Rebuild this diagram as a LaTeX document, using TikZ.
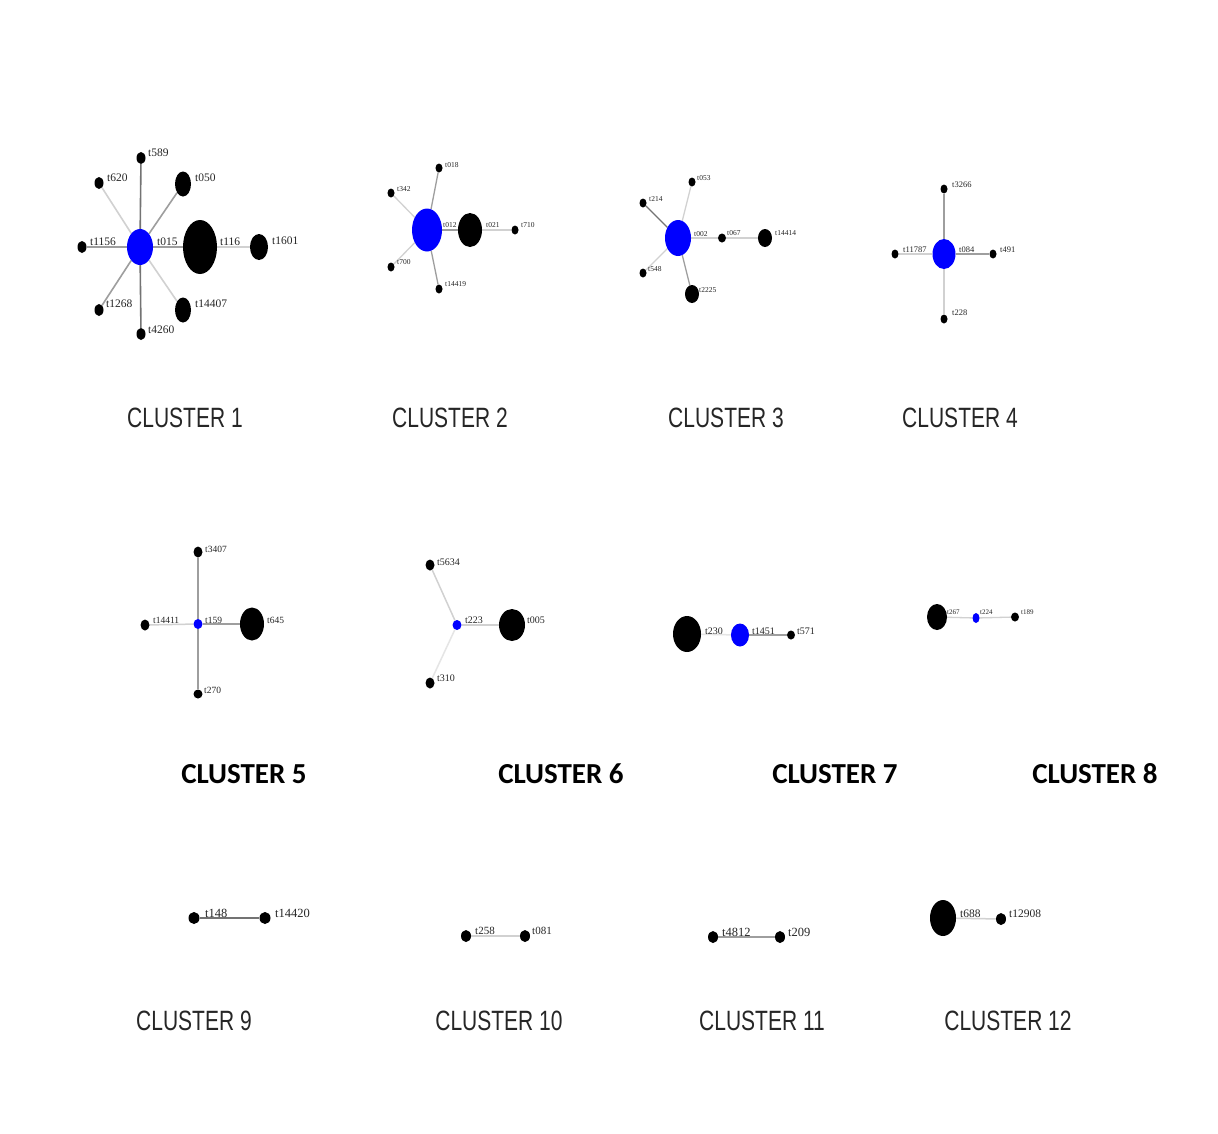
\documentclass[tikz,border=0pt]{standalone}
\usepackage{fontspec}
\setmainfont{Liberation Serif}
\newfontfamily\titfont{Liberation Sans}
\newfontfamily\boldtit{Carlito}
\usetikzlibrary{shapes.geometric,backgrounds}
\pgfdeclarelayer{bottom}
\pgfsetlayers{bottom,background,main}
\tikzset{
  nd/.style n args={3}{ellipse, fill=#1, draw=none, minimum width=#2pt, minimum height=#3pt, inner sep=0pt},
  bn/.style 2 args={nd={black}{#1}{#2}},
  un/.style 2 args={nd={blue}{#1}{#2}},
  lbl/.style={font=\fontsize{#1}{#1}\selectfont, anchor=west, inner sep=0pt, text=black!85},
  eD/.style={draw=black!55, line width=1.6pt},
  eM/.style={draw=black!38, line width=1.6pt},
  eL/.style={draw=black!18, line width=1.6pt},
  titA/.style={font=\titfont\fontsize{21}{21}\selectfont, inner sep=0pt, text=black!85},
  titB/.style={font=\boldtit\bfseries\fontsize{29}{29}\selectfont, inner sep=0pt},
}
\newcommand{\tallt}[1]{\scalebox{1}[1.33]{#1}}
\begin{document}
\begin{tikzpicture}[x=1pt,y=-1pt]
\begin{pgfonlayer}{bottom}
\fill[white] (0,0) rectangle (1218,1133);
\end{pgfonlayer}
\useasboundingbox (0,0) rectangle (1218,1133);

% ---------- Cluster 1 ----------
\node[un={26}{36}] (c1a) at (140,247) {};
\node[bn={34}{54}] (c1b) at (200,247) {};
\node[bn={18}{26}] (c1c) at (259,247) {};
\node[bn={16}{25}] (c1d) at (183,184) {};
\node[bn={16}{25}] (c1e) at (183,310) {};
\node[bn={9}{12}] (c1f) at (141,158) {};
\node[bn={9}{12}] (c1g) at (99,183) {};
\node[bn={9}{12}] (c1h) at (82,247) {};
\node[bn={9}{12}] (c1i) at (99,310) {};
\node[bn={9}{12}] (c1j) at (141,334) {};
\begin{scope}[on background layer]
\draw[eD] (c1a) -- (c1f);
\draw[eL] (c1a) -- (c1g);
\draw[eM] (c1a) -- (c1d);
\draw[eM] (c1a) -- (c1h);
\draw[eM] (c1a) -- (c1b);
\draw[eL] (c1b) -- (c1c);
\draw[eM] (c1a) -- (c1i);
\draw[eD] (c1a) -- (c1j);
\draw[eL] (c1a) -- (c1e);
\end{scope}
\node[lbl=11.5] (l1f) at (148,153) {t589};
\node[lbl=11.5] (l1g) at (107,178) {t620};
\node[lbl=11.5] (l1d) at (195,178) {t050};
\node[lbl=11.5] (l1h) at (90,242) {t1156};
\node[lbl=11.5] (l1a) at (157,242) {t015};
\node[lbl=11.5] (l1b) at (220,242) {t116};
\node[lbl=11.5] (l1c) at (272,241) {t1601};
\node[lbl=11.5] (l1i) at (106,304) {t1268};
\node[lbl=11.5] (l1e) at (195,304) {t14407};
\node[lbl=11.5] (l1j) at (148,330) {t4260};
\node[titA] (t1) at (185,418) {\tallt{CLUSTER 1}};

% ---------- Cluster 2 ----------
\node[un={30}{43}] (c2a) at (427,230) {};
\node[bn={24}{34}] (c2b) at (470,230) {};
\node[bn={7}{9}] (c2c) at (515,230) {};
\node[bn={7}{9}] (c2d) at (439,168) {};
\node[bn={7}{9}] (c2e) at (391,193) {};
\node[bn={7}{9}] (c2f) at (391,267) {};
\node[bn={7}{9}] (c2g) at (439,289) {};
\begin{scope}[on background layer]
\draw[eM, line width=1.3pt] (c2a) -- (c2d);
\draw[eL, line width=1.3pt] (c2a) -- (c2e);
\draw[eL, line width=1.3pt] (c2a) -- (c2f);
\draw[eM, line width=1.3pt] (c2a) -- (c2g);
\draw[eM, line width=1.3pt] (c2a) -- (c2b);
\draw[eL, line width=1.3pt] (c2b) -- (c2c);
\end{scope}
\node[lbl=7.5] (l2d) at (445,165) {t018};
\node[lbl=7.5] (l2e) at (397,189) {t342};
\node[lbl=7.5] (l2a) at (443,225) {t012};
\node[lbl=7.5] (l2b) at (486,225) {t021};
\node[lbl=7.5] (l2c) at (521,225) {t710};
\node[lbl=7.5] (l2f) at (397,262) {t700};
\node[lbl=7.5] (l2g) at (445,284) {t14419};
\node[titA] (t2) at (450,418) {\tallt{CLUSTER 2}};

% ---------- Cluster 3 ----------
\node[un={26}{36}] (c3a) at (678,238) {};
\node[bn={8}{9}] (c3b) at (722,238) {};
\node[bn={14}{18}] (c3c) at (765,238) {};
\node[bn={7}{9}] (c3d) at (692,182) {};
\node[bn={7}{9}] (c3e) at (643,203) {};
\node[bn={7}{9}] (c3f) at (643,273) {};
\node[bn={14}{18}] (c3g) at (692,294) {};
\begin{scope}[on background layer]
\draw[eL, line width=1.3pt] (c3a) -- (c3d);
\draw[eD, line width=1.3pt] (c3a) -- (c3e);
\draw[eL, line width=1.3pt] (c3a) -- (c3f);
\draw[eM, line width=1.3pt] (c3a) -- (c3g);
\draw[eL, line width=1.3pt] (c3a) -- (c3b);
\draw[eL, line width=1.3pt] (c3b) -- (c3c);
\end{scope}
\node[lbl=7.5] (l3d) at (697,178) {t053};
\node[lbl=7.5] (l3e) at (649,199) {t214};
\node[lbl=7.5] (l3a) at (694,234) {t002};
\node[lbl=7.5] (l3b) at (727,233) {t067};
\node[lbl=7.5] (l3c) at (775,233) {t14414};
\node[lbl=7.5] (l3f) at (648,269) {t548};
\node[lbl=7.5] (l3g) at (699,290) {t2225};
\node[titA] (t3) at (726,418) {\tallt{CLUSTER 3}};

% ---------- Cluster 4 ----------
\node[un={23}{30}] (c4a) at (944,254) {};
\node[bn={7}{9}] (c4b) at (944,189) {};
\node[bn={7}{9}] (c4c) at (895,254) {};
\node[bn={7}{9}] (c4d) at (993,254) {};
\node[bn={7}{9}] (c4e) at (944,319) {};
\begin{scope}[on background layer]
\draw[eM, line width=1.3pt] (c4a) -- (c4b);
\draw[eL, line width=1.3pt] (c4a) -- (c4c);
\draw[eM, line width=1.3pt] (c4a) -- (c4d);
\draw[eL, line width=1.3pt] (c4a) -- (c4e);
\end{scope}
\node[lbl=8.5] (l4b) at (952,185) {t3266};
\node[lbl=8.5] (l4c) at (903,250) {t11787};
\node[lbl=8.5] (l4a) at (959,250) {t084};
\node[lbl=8.5] (l4d) at (1000,250) {t491};
\node[lbl=8.5] (l4e) at (952,313) {t228};
\node[titA] (t4) at (960,418) {\tallt{CLUSTER 4}};

% ---------- Cluster 5 ----------
\node[un={9}{10}] (c5a) at (198,624) {};
\node[bn={9}{11}] (c5b) at (198,552) {};
\node[bn={9}{11}] (c5c) at (145,625) {};
\node[bn={24}{33}] (c5d) at (252,624) {};
\node[bn={9}{9}] (c5e) at (198,694) {};
\begin{scope}[on background layer]
\draw[eM, line width=1.5pt] (c5a) -- (c5b);
\draw[eL, line width=1.5pt] (c5a) -- (c5c);
\draw[eM, line width=1.5pt] (c5a) -- (c5d);
\draw[eM, line width=1.5pt] (c5a) -- (c5e);
\end{scope}
\node[lbl=9.5] (l5b) at (205,549) {t3407};
\node[lbl=9.5] (l5c) at (153,620) {t14411};
\node[lbl=9.5] (l5a) at (205,620) {t159};
\node[lbl=9.5] (l5d) at (267,620) {t645};
\node[lbl=9.5] (l5e) at (204,690) {t270};
\node[titB] (t5) at (244,774) {CLUSTER 5};

% ---------- Cluster 6 ----------
\node[un={9}{10}] (c6a) at (457,625) {};
\node[bn={9}{11}] (c6b) at (430,565) {};
\node[bn={9}{11}] (c6c) at (430,683) {};
\node[bn={26}{32}] (c6d) at (512,625) {};
\begin{scope}[on background layer]
\draw[eL, line width=1.5pt] (c6a) -- (c6b);
\draw[draw=black!10, line width=1.5pt] (c6a) -- (c6c);
\draw[eL, line width=1.5pt] (c6a) -- (c6d);
\end{scope}
\node[lbl=10] (l6b) at (437,562) {t5634};
\node[lbl=10] (l6a) at (465,620) {t223};
\node[lbl=10] (l6d) at (527,620) {t005};
\node[lbl=10] (l6c) at (437,678) {t310};
\node[titB] (t6) at (561,774) {CLUSTER 6};

% ---------- Cluster 7 ----------
\node[bn={28}{36}] (c7a) at (687,634) {};
\node[un={18}{23}] (c7b) at (740,635) {};
\node[bn={8}{9}] (c7c) at (791,635) {};
\begin{scope}[on background layer]
\draw[draw=black!10, line width=1.5pt] (c7a) -- (c7b);
\draw[eM, line width=1.5pt] (c7b) -- (c7c);
\end{scope}
\node[lbl=10] (l7a) at (705,631) {t230};
\node[lbl=10] (l7b) at (752,631) {t1451};
\node[lbl=10] (l7c) at (797,631) {t571};
\node[titB] (t7) at (835,774) {CLUSTER 7};

% ---------- Cluster 8 ----------
\node[bn={20}{26}] (c8a) at (937,617) {};
\node[un={7}{10}] (c8b) at (976,618) {};
\node[bn={8}{9}] (c8c) at (1015,617) {};
\begin{scope}[on background layer]
\draw[eL, line width=1.3pt] (c8a) -- (c8b);
\draw[eL, line width=1.3pt] (c8b) -- (c8c);
\end{scope}
\node[lbl=7] (l8a) at (947,612) {t267};
\node[lbl=7] (l8b) at (980,612) {t224};
\node[lbl=7] (l8c) at (1021,612) {t189};
\node[titB] (t8) at (1095,774) {CLUSTER 8};

% ---------- Cluster 9 ----------
\node[bn={11}{12}] (c9a) at (194,918) {};
\node[bn={11}{12}] (c9b) at (265,918) {};
\begin{scope}[on background layer]
\draw[eD, line width=1.6pt] (c9a) -- (c9b);
\end{scope}
\node[lbl=12.5] (l9a) at (205,913) {t148};
\node[lbl=12.5] (l9b) at (275,913) {t14420};
\node[titA] (t9) at (194,1021) {\tallt{CLUSTER 9}};

% ---------- Cluster 10 ----------
\node[bn={10}{12}] (c10a) at (466,936) {};
\node[bn={10}{12}] (c10b) at (525,936) {};
\begin{scope}[on background layer]
\draw[eL, line width=1.5pt] (c10a) -- (c10b);
\end{scope}
\node[lbl=11] (l10a) at (475,931) {t258};
\node[lbl=11] (l10b) at (532,931) {t081};
\node[titA] (t10) at (499,1021) {\tallt{CLUSTER 10}};

% ---------- Cluster 11 ----------
\node[bn={10}{12}] (c11a) at (713,937) {};
\node[bn={10}{12}] (c11b) at (780,937) {};
\begin{scope}[on background layer]
\draw[eM, line width=1.5pt] (c11a) -- (c11b);
\end{scope}
\node[lbl=12.5] (l11a) at (722,932) {t4812};
\node[lbl=12.5] (l11b) at (788,932) {t209};
\node[titA] (t11) at (762,1021) {\tallt{CLUSTER 11}};

% ---------- Cluster 12 ----------
\node[bn={26}{36}] (c12a) at (943,918) {};
\node[bn={10}{12}] (c12b) at (1001,919) {};
\begin{scope}[on background layer]
\draw[eL, line width=1.5pt] (c12a) -- (c12b);
\end{scope}
\node[lbl=11.5] (l12a) at (960,914) {t688};
\node[lbl=11.5] (l12b) at (1009,914) {t12908};
\node[titA] (t12) at (1008,1021) {\tallt{CLUSTER 12}};
\end{tikzpicture}
\end{document}
